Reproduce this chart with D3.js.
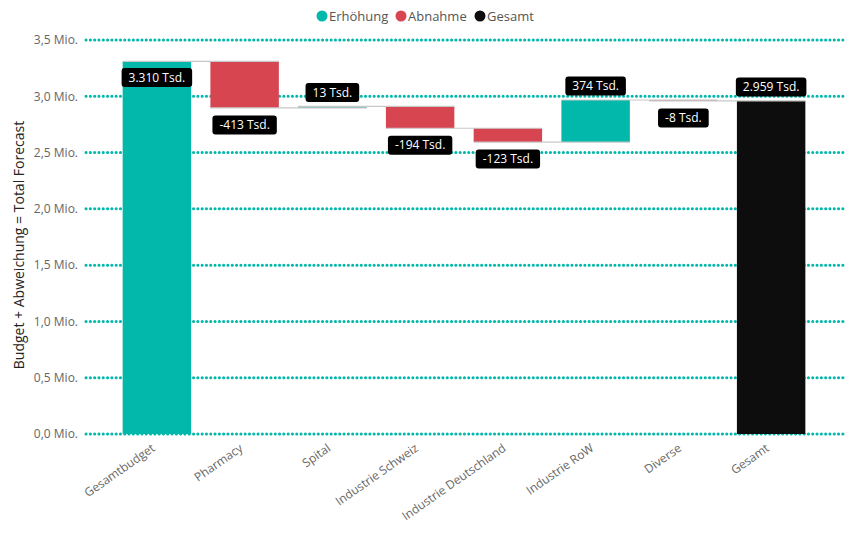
<!DOCTYPE html>
<html>
<head>
<meta charset="utf-8">
<script src="https://cdn.jsdelivr.net/npm/d3@7"></script>
<style>
  body { margin: 0; background: #fff; }
  text { font-family: "Open Sans", "Noto Sans", sans-serif; }
</style>
</head>
<body>
<script>
const categories = ['Gesamtbudget', 'Pharmacy', 'Spital', 'Industrie Schweiz', 'Industrie Deutschland', 'Industrie RoW', 'Diverse', 'Gesamt']
const changes = [3310, -413, 13, -194, -123, 374, -8, 2959]   // Tsd.
const kinds = ['up', 'down', 'up', 'down', 'down', 'up', 'down', 'total']
const yTicks = [0, 500, 1000, 1500, 2000, 2500, 3000, 3500]
const legendNames = ['Erhöhung', 'Abnahme', 'Gesamt']

function main(){
    const width = 863, height = 536
    const colors = { up: '#01B8AA', down: '#D64550', total: '#0d0d0d' }

    const svg = d3.select('body').append('svg')
        .attr('width', width)
        .attr('height', height)

    // running totals
    let run = 0
    const steps = categories.map((c, i) => {
        let start, end
        if (kinds[i] === 'total') { start = 0; end = changes[i] }
        else { start = run; end = run + changes[i] }
        run = end
        return { cat: c, start, end, value: changes[i], kind: kinds[i] }
    })

    const x = d3.scaleBand()
        .domain(categories)
        .range([113, 815])
        .paddingInner(0.22)
        .paddingOuter(0.11)

    const y = d3.scaleLinear()
        .domain([0, 3500])
        .range([434, 40])

    // grid
    svg.append('g').selectAll('line')
        .data(yTicks)
        .join('line')
        .attr('x1', 86).attr('x2', 843)
        .attr('y1', d => y(d)).attr('y2', d => y(d))
        .attr('stroke', '#01B8AA')
        .attr('stroke-width', 3)
        .attr('stroke-linecap', 'round')
        .attr('stroke-dasharray', '0.1 4.2')

    const yAxis = svg.append('g')
        .attr('transform', 'translate(78,0)')
        .call(d3.axisLeft(y).tickValues(yTicks).tickSize(0).tickPadding(0)
            .tickFormat(d => d3.format('.1f')(d / 1000).replace('.', ',') + ' Mio.'))
    yAxis.select('.domain').remove()
    yAxis.selectAll('text').attr('fill', '#666').attr('font-size', 12).style('font-family', '"Open Sans", sans-serif')

    svg.append('text')
        .attr('transform', 'translate(24,245) rotate(-90)')
        .attr('text-anchor', 'middle')
        .attr('font-size', 14)
        .attr('fill', '#252423')
        .text('Budget + Abweichung = Total Forecast')

    // bars
    svg.append('g').selectAll('rect')
        .data(steps)
        .join('rect')
        .attr('x', d => x(d.cat))
        .attr('width', x.bandwidth())
        .attr('y', d => y(Math.max(d.start, d.end)))
        .attr('height', d => Math.abs(y(d.start) - y(d.end)))
        .attr('fill', d => colors[d.kind])

    // connectors, drawn over the bars
    svg.append('g').selectAll('line')
        .data(steps.slice(0, -1))
        .join('line')
        .attr('x1', (d) => x(d.cat))
        .attr('x2', (d, i) => x(categories[i + 1]) + x.bandwidth())
        .attr('y1', d => y(d.end))
        .attr('y2', d => y(d.end))
        .attr('stroke', '#c8c8c8')
        .attr('stroke-width', 1.2)

    // x labels
    const xAxis = svg.append('g')
        .attr('transform', 'translate(0,434)')
        .call(d3.axisBottom(x).tickSize(0).tickPadding(0))
    xAxis.select('.domain').remove()
    xAxis.selectAll('text')
        .attr('fill', '#666')
        .attr('font-size', 12)
        .style('font-family', '"Open Sans", sans-serif')
        .attr('text-anchor', 'end')
        .attr('y', 0)
        .attr('dy', 0)
        .attr('transform', 'translate(-1,16) rotate(-35)')

    // data labels
    const fmt = v => d3.format(',')(v).replace(/,/g, '.').replace('\u2212', '-') + ' Tsd.'
    const labels = svg.append('g').selectAll('g')
        .data(steps)
        .join('g')
        .attr('transform', (d, i) => {
            const cx = x(d.cat) + x.bandwidth() / 2
            let cy
            if (i === 0) cy = y(d.end) + 16
            else if (d.kind === 'down') cy = y(Math.min(d.start, d.end)) + 17
            else cy = y(Math.max(d.start, d.end)) - 14
            return `translate(${cx},${cy})`
        })
    labels.append('text')
        .attr('text-anchor', 'middle')
        .attr('dy', '0.35em')
        .attr('font-size', 12)
        .attr('fill', '#fff')
        .text(d => fmt(d.value))
    labels.each(function(){
        const g = d3.select(this)
        const w = g.select('text').node().getComputedTextLength() + 14
        g.insert('rect', 'text')
            .attr('x', -w / 2).attr('y', -9.5)
            .attr('width', w).attr('height', 19)
            .attr('rx', 3)
            .attr('fill', '#000')
    })

    // legend
    const legX = [322, 401, 480]
    const leg = svg.append('g').selectAll('g')
        .data(legendNames)
        .join('g')
        .attr('transform', (d, i) => `translate(${legX[i]},16)`)
    leg.append('circle')
        .attr('r', 5.5)
        .attr('fill', (d, i) => [colors.up, colors.down, colors.total][i])
    leg.append('text')
        .attr('x', 7)
        .attr('dy', '0.35em')
        .attr('font-size', 13)
        .attr('fill', '#555')
        .text(d => d)
}

main()
</script>
</body>
</html>
